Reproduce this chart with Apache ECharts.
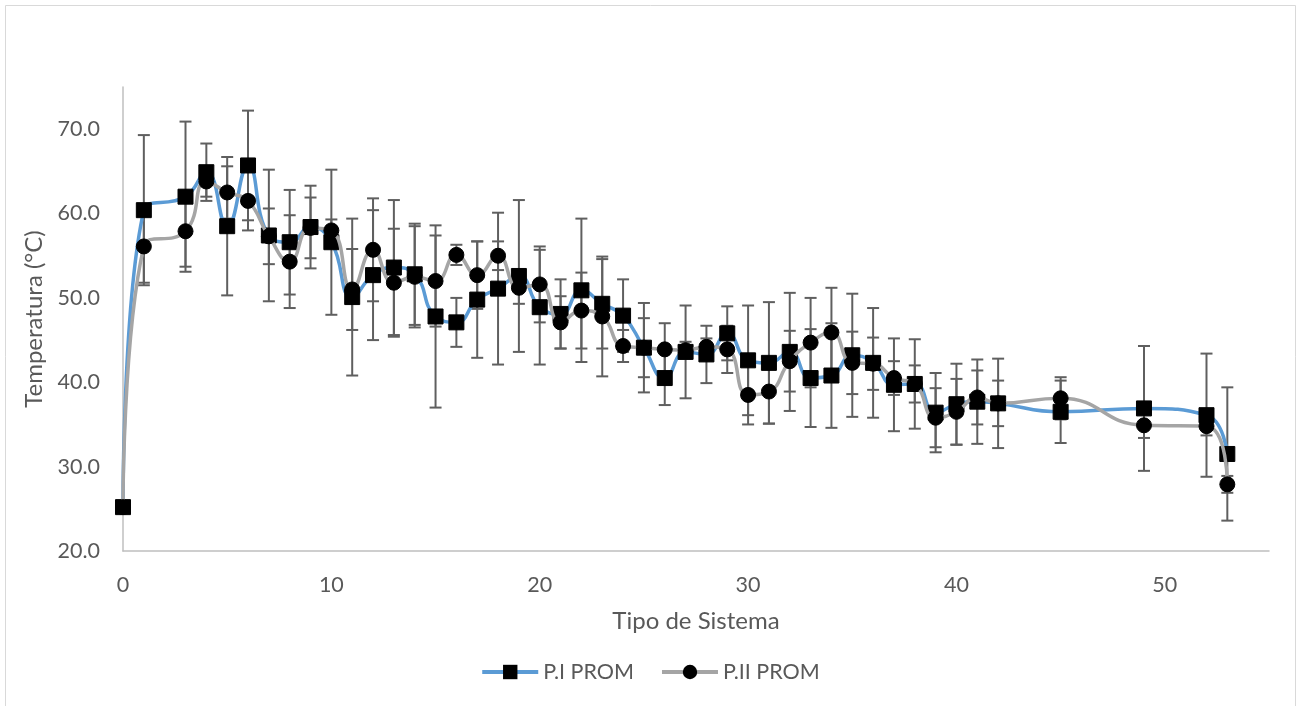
<!DOCTYPE html>
<html>
<head>
<meta charset="utf-8">
<script src="https://cdn.jsdelivr.net/npm/echarts@6/dist/echarts.min.js"></script>
<style>
  html, body { margin: 0; padding: 0; background: #ffffff; }
  #chart { width: 1300px; height: 706px; }
</style>
</head>
<body>
<div id="chart"></div>
<script>
// ---- data ----
const xValues = [0, 1, 3, 4, 5, 6, 7, 8, 9, 10, 11, 12, 13, 14, 15, 16, 17, 18, 19, 20, 21, 22, 23, 24, 25, 26, 27, 28, 29, 30, 31, 32, 33, 34, 35, 36, 37, 38, 39, 40, 41, 42, 45, 49, 52, 53];
const p1Values = [25.2, 60.4, 62.0, 64.9, 58.5, 65.7, 57.4, 56.6, 58.4, 56.6, 50.1, 52.7, 53.6, 52.8, 47.8, 47.1, 49.8, 51.1, 52.6, 48.9, 48.1, 50.9, 49.3, 47.9, 44.1, 40.5, 43.6, 43.3, 45.8, 42.6, 42.3, 43.6, 40.5, 40.8, 43.2, 42.3, 39.7, 39.8, 36.4, 37.4, 37.7, 37.5, 36.5, 36.9, 36.1, 31.5];
const p2Values = [25.2, 56.1, 57.9, 63.8, 62.5, 61.5, 57.3, 54.3, 58.3, 58.0, 51.0, 55.7, 51.8, 52.5, 52.0, 55.1, 52.7, 55.0, 51.2, 51.6, 47.1, 48.5, 47.8, 44.3, 44.1, 43.9, 43.8, 44.2, 43.9, 38.5, 38.9, 42.5, 44.7, 45.9, 42.3, 42.2, 40.5, 39.8, 35.8, 36.5, 38.2, 37.5, 38.1, 34.9, 34.8, 27.9];
const p1Err = [0, 8.9, 8.9, 3.4, 8.2, 6.5, 7.8, 6.2, 4.9, 8.6, 9.3, 7.7, 8.0, 6.0, 10.8, 2.9, 6.9, 9.0, 9.0, 6.8, 4.1, 8.5, 5.3, 4.3, 5.3, 3.2, 5.5, 3.4, 3.2, 6.5, 7.2, 7.0, 5.8, 6.2, 7.3, 6.5, 5.5, 5.3, 4.7, 4.8, 5.0, 5.3, 3.7, 7.4, 7.3, 7.9];
const p2Err = [0, 4.3, 4.2, 1.8, 3.1, 3.5, 3.3, 5.5, 3.6, 1.3, 4.8, 6.1, 6.4, 6.0, 5.4, 1.2, 4.0, 1.7, 1.9, 4.5, 3.1, 4.5, 7.1, 1.9, 3.5, 3.1, 1.0, 1.0, 2.8, 3.5, 3.8, 3.6, 5.3, 5.3, 3.7, 3.1, 2.0, 2.2, 3.5, 3.9, 3.2, 2.7, 2.5, 1.5, 1.1, 1.0];
const seriesNames = ['P.I PROM', 'P.II PROM'];
const xAxisTitle = 'Tipo de Sistema';
const yAxisTitle = 'Temperatura (°C)';

// ---- build ----
const FONT = 'Lato';
const TXT = '#595959';
const AXIS = '#BFBFBF';

function points(vals) { return xValues.map((x, i) => [x, vals[i]]); }
function errRows(vals, errs) { return xValues.map((x, i) => [x, vals[i] - errs[i], vals[i] + errs[i]]); }

function errRender(params, api) {
  const x = api.value(0);
  const lo = api.coord([x, api.value(1)]);
  const hi = api.coord([x, api.value(2)]);
  if (Math.abs(hi[1] - lo[1]) < 0.5) return null;
  const w = 6;
  const st = { stroke: '#5f5f5f', lineWidth: 2 };
  return {
    type: 'group',
    children: [
      { type: 'line', shape: { x1: lo[0], y1: lo[1], x2: hi[0], y2: hi[1] }, style: st },
      { type: 'line', shape: { x1: lo[0] - w, y1: lo[1], x2: lo[0] + w, y2: lo[1] }, style: st },
      { type: 'line', shape: { x1: hi[0] - w, y1: hi[1], x2: hi[0] + w, y2: hi[1] }, style: st }
    ]
  };
}

const chart = echarts.init(document.getElementById('chart'), null, { renderer: 'canvas' });
chart.setOption({
  backgroundColor: '#ffffff',
  animation: false,
  textStyle: { fontFamily: FONT },
  graphic: [{
    type: 'rect', silent: true,
    shape: { x: 5.5, y: 5.5, width: 1290, height: 760 },
    style: { fill: 'none', stroke: '#D9D9D9', lineWidth: 1 }
  }],
  grid: { left: 123, right: 31, top: 87, bottom: 155, containLabel: false },
  legend: {
    data: seriesNames,
    bottom: 18,
    left: 'center',
    itemWidth: 56,
    itemHeight: 18,
    itemGap: 26,
    lineStyle: { width: 4 },
    textStyle: { color: TXT, fontSize: 21.5, fontFamily: FONT }
  },
  xAxis: {
    type: 'value',
    min: 0, max: 55, interval: 10,
    name: xAxisTitle,
    nameLocation: 'middle',
    nameGap: 58,
    nameTextStyle: { color: TXT, fontSize: 24, fontFamily: FONT },
    axisLine: { show: true, lineStyle: { color: AXIS, width: 1.5 } },
    axisTick: { show: false },
    splitLine: { show: false },
    axisLabel: { color: TXT, fontSize: 21.5, margin: 23, showMaxLabel: false, fontFamily: FONT }
  },
  yAxis: {
    type: 'value',
    min: 20, max: 75, interval: 10,
    name: yAxisTitle,
    nameLocation: 'middle',
    nameGap: 74,
    nameTextStyle: { color: TXT, fontSize: 24, fontFamily: FONT },
    axisLine: { show: true, lineStyle: { color: AXIS, width: 1.5 } },
    axisTick: { show: false },
    splitLine: { show: false },
    axisLabel: { color: TXT, fontSize: 21.5, margin: 23, showMaxLabel: false, fontFamily: FONT,
      formatter: v => v.toFixed(1) }
  },
  series: [
    {
      name: 'P.I err', type: 'custom', z: 1,
      data: errRows(p1Values, p1Err),
      encode: { x: 0, y: [1, 2] },
      renderItem: errRender, silent: true
    },
    {
      name: 'P.II err', type: 'custom', z: 1,
      data: errRows(p2Values, p2Err),
      encode: { x: 0, y: [1, 2] },
      renderItem: errRender, silent: true
    },
    {
      name: seriesNames[0], type: 'line', z: 2,
      data: points(p1Values),
      smooth: 0.5,
      symbol: 'rect', symbolSize: 15, showAllSymbol: true,
      lineStyle: { color: '#5B9BD5', width: 3.5 },
      itemStyle: { color: '#000000', borderColor: '#000000' }
    },
    {
      name: seriesNames[1], type: 'line', z: 3,
      data: points(p2Values),
      smooth: 0.5,
      symbol: 'circle', symbolSize: 15, showAllSymbol: true,
      lineStyle: { color: '#A5A5A5', width: 3.5 },
      itemStyle: { color: '#000000', borderColor: '#000000' }
    }
  ]
});
</script>
</body>
</html>
